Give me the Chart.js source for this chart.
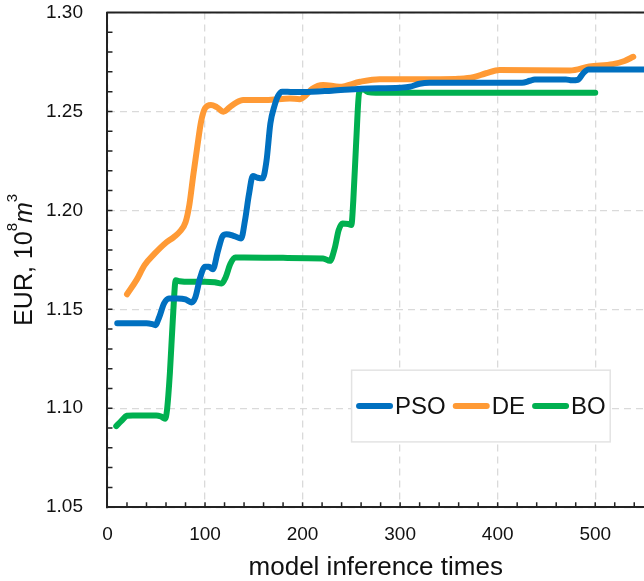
<!DOCTYPE html>
<html>
<head>
<meta charset="utf-8">
<script src="https://cdn.jsdelivr.net/npm/chart.js@4.4.1/dist/chart.umd.min.js"></script>
<style>
  html, body { margin: 0; padding: 0; background: #fff; overflow: hidden; }
  #wrap { width: 644px; height: 581px; }
</style>
</head>
<body>
<div id="wrap"><canvas id="myChart" width="644" height="581"></canvas></div>
<script>
// series names + colours
const seriesNames = ["PSO", "DE", "BO"];
const seriesColors = ["#0070C0", "#FF9A35", "#00B050"];

// values (x = model inference times, y = EUR)
const psoX = [10, 20, 30, 40, 46, 49, 53, 58, 63, 72, 80, 86, 90, 95, 100, 104, 108, 113, 118, 122, 130, 137, 141, 145, 149, 154, 159, 163, 167, 171, 175, 179, 190, 200, 230, 260, 300, 310, 320, 330, 400, 425, 433, 438, 470, 476, 482, 488, 493, 550];
const psoY = [1.143, 1.143, 1.143, 1.143, 1.1425, 1.142, 1.146, 1.153, 1.1555, 1.1555, 1.155, 1.1535, 1.156, 1.166, 1.1715, 1.1715, 1.1702, 1.179, 1.187, 1.188, 1.187, 1.1858, 1.195, 1.208, 1.2174, 1.2165, 1.2162, 1.225, 1.244, 1.2525, 1.258, 1.26, 1.2598, 1.2598, 1.2605, 1.2615, 1.262, 1.2625, 1.264, 1.2645, 1.2645, 1.2645, 1.2655, 1.2662, 1.2662, 1.2657, 1.266, 1.2695, 1.2712, 1.2712];

const deX = [20, 30, 38, 48, 59, 68, 74, 80, 84, 88, 92, 96, 100, 106, 112, 119, 125, 132, 139, 163, 187, 197, 203, 210, 221, 238, 259, 279, 341, 360, 375, 388, 402, 474, 494, 518, 530, 539];
const deY = [1.1576, 1.165, 1.1723, 1.178, 1.1833, 1.1865, 1.1892, 1.194, 1.203, 1.218, 1.232, 1.245, 1.2516, 1.2533, 1.2522, 1.2499, 1.252, 1.2545, 1.2558, 1.2558, 1.2566, 1.2562, 1.258, 1.2615, 1.2634, 1.2625, 1.265, 1.2663, 1.2663, 1.2665, 1.2673, 1.2693, 1.271, 1.2707, 1.2727, 1.2739, 1.2755, 1.2776];

const boX = [9, 14, 20, 26, 40, 50, 55, 59, 61, 64, 67, 70, 74, 85, 100, 110, 117, 121, 126, 131, 140, 180, 221, 228, 233, 237, 241, 247, 250, 252, 255, 258, 262, 267, 275, 500];
const boY = [1.091, 1.0935, 1.0962, 1.0964, 1.0964, 1.0964, 1.0958, 1.0947, 1.099, 1.118, 1.145, 1.1647, 1.1642, 1.1639, 1.1639, 1.1637, 1.163, 1.166, 1.173, 1.1762, 1.1762, 1.176, 1.1757, 1.1745, 1.181, 1.19, 1.1934, 1.1931, 1.1926, 1.205, 1.235, 1.2595, 1.2612, 1.2598, 1.2595, 1.2595];

// axis ticks
const xTicks = [0, 100, 200, 300, 400, 500];
const yTicks = [1.05, 1.10, 1.15, 1.20, 1.25, 1.30];
const xRange = [0, 550];
const yRange = [1.05, 1.30];
const xTitle = "model inference times";

const FONT = "'Liberation Sans', Arial, sans-serif";
Chart.defaults.font.family = FONT;
Chart.defaults.color = "#111";

function toPoints(xs, ys) {
  return xs.map((x, i) => ({ x: x, y: ys[i] }));
}

// top frame line + small inward ticks
const frame = {
  id: "frame",
  afterDraw(chart) {
    const { ctx, chartArea: a, scales: { x, y } } = chart;
    ctx.save();
    ctx.strokeStyle = "#222";
    ctx.lineWidth = 2;
    ctx.beginPath();
    ctx.moveTo(a.left - 1, a.top);
    ctx.lineTo(a.right, a.top);
    ctx.stroke();
    ctx.lineWidth = 1.5;
    ctx.beginPath();
    for (let i = 1; i < 25; i++) {
      const py = y.getPixelForValue(yRange[0] + i * 0.01);
      ctx.moveTo(a.left, py);
      ctx.lineTo(a.left + 5, py);
    }
    for (let v = 20; v < xRange[1]; v += 20) {
      const px = x.getPixelForValue(v);
      ctx.moveTo(px, a.bottom);
      ctx.lineTo(px, a.bottom - 5);
    }
    ctx.stroke();
    ctx.restore();
  }
};

// y title with superscripts and italic m
const yTitle = {
  id: "yTitle",
  afterDraw(chart) {
    const { ctx, chartArea: a } = chart;
    const parts = [
      { t: "EUR, 10", f: "25px " + FONT, dy: 0 },
      { t: "8", f: "15px " + FONT, dy: -15 },
      { t: "m", f: "italic 25px " + FONT, dy: 0 },
      { t: "3", f: "15px " + FONT, dy: -15 }
    ];
    ctx.save();
    let total = 0;
    parts.forEach(p => { ctx.font = p.f; p.w = ctx.measureText(p.t).width; total += p.w; });
    ctx.translate(a.left - 75, (a.top + a.bottom) / 2);
    ctx.rotate(-Math.PI / 2);
    ctx.fillStyle = "#111";
    ctx.textBaseline = "alphabetic";
    let x = -total / 2;
    parts.forEach(p => {
      ctx.font = p.f;
      ctx.fillText(p.t, x, p.dy);
      x += p.w;
    });
    ctx.restore();
  }
};

// boxed legend inside the plot
const legendBox = {
  id: "legendBox",
  afterDraw(chart) {
    const { ctx, chartArea: a } = chart;
    const w = a.right - a.left, h = a.bottom - a.top;
    const x0 = a.left + 0.455 * w, x1 = a.left + 0.937 * w;
    const y0 = a.top + 0.723 * h, y1 = a.top + 0.868 * h;
    ctx.save();
    ctx.fillStyle = "#fff";
    ctx.strokeStyle = "#e3e3e3";
    ctx.lineWidth = 1.5;
    ctx.fillRect(x0, y0, x1 - x0, y1 - y0);
    ctx.strokeRect(x0, y0, x1 - x0, y1 - y0);
    ctx.font = "24px " + FONT;
    ctx.textBaseline = "middle";
    const sample = 37, gapText = 2, gapItem = 7;
    const items = chart.data.datasets.map(ds => ({ ds: ds, tw: ctx.measureText(ds.label).width }));
    let total = items.reduce((s, it) => s + sample + gapText + it.tw, 0) + gapItem * (items.length - 1);
    let x = (x0 + x1) / 2 - total / 2;
    const yc = (y0 + y1) / 2;
    items.forEach(it => {
      ctx.strokeStyle = it.ds.borderColor;
      ctx.lineWidth = 6;
      ctx.lineCap = "round";
      ctx.beginPath();
      ctx.moveTo(x + 3, yc);
      ctx.lineTo(x + sample - 3, yc);
      ctx.stroke();
      x += sample + gapText;
      ctx.fillStyle = "#111";
      ctx.fillText(it.ds.label, x, yc + 1);
      x += it.tw + gapItem;
    });
    ctx.restore();
  }
};

const allX = [psoX, deX, boX];
const allY = [psoY, deY, boY];

const ctx = document.getElementById("myChart").getContext("2d");
window.chart = new Chart(ctx, {
  type: "line",
  data: {
    datasets: seriesNames.map((name, i) => ({
      label: name,
      data: toPoints(allX[i], allY[i]),
      borderColor: seriesColors[i],
      backgroundColor: seriesColors[i],
      borderWidth: 6,
      borderCapStyle: "round",
      borderJoinStyle: "round",
      pointRadius: 0,
      cubicInterpolationMode: "monotone",
      fill: false
    }))
  },
  options: {
    responsive: false,
    animation: false,
    devicePixelRatio: 1,
    layout: { padding: { left: 46, top: 12.5, right: 0, bottom: 0 } },
    plugins: {
      legend: { display: false },
      tooltip: { enabled: false }
    },
    scales: {
      x: {
        type: "linear",
        min: xRange[0],
        max: xRange[1],
        afterBuildTicks: axis => { axis.ticks = xTicks.map(v => ({ value: v })); },
        ticks: { font: { size: 19 }, color: "#111", padding: 4, maxRotation: 0, callback: v => String(v) },
        grid: { color: "#dadada", lineWidth: 1.3, tickLength: 12, tickColor: "rgba(0,0,0,0)" },
        border: { display: true, color: "#222", width: 2, dash: [7, 5] },
        title: { display: true, text: xTitle, font: { size: 26, lineHeight: 1 }, color: "#111", padding: { top: 5, bottom: 0 } }
      },
      y: {
        type: "linear",
        min: yRange[0],
        max: yRange[1],
        afterBuildTicks: axis => { axis.ticks = yTicks.map(v => ({ value: v })); },
        ticks: { font: { size: 19 }, color: "#111", padding: 0, callback: v => v.toFixed(2) },
        grid: { color: "#dadada", lineWidth: 1.3, tickLength: 24.5, tickColor: "rgba(0,0,0,0)" },
        border: { display: true, color: "#222", width: 2, dash: [7, 5] }
      }
    }
  },
  plugins: [frame, yTitle, legendBox]
});
</script>
</body>
</html>
